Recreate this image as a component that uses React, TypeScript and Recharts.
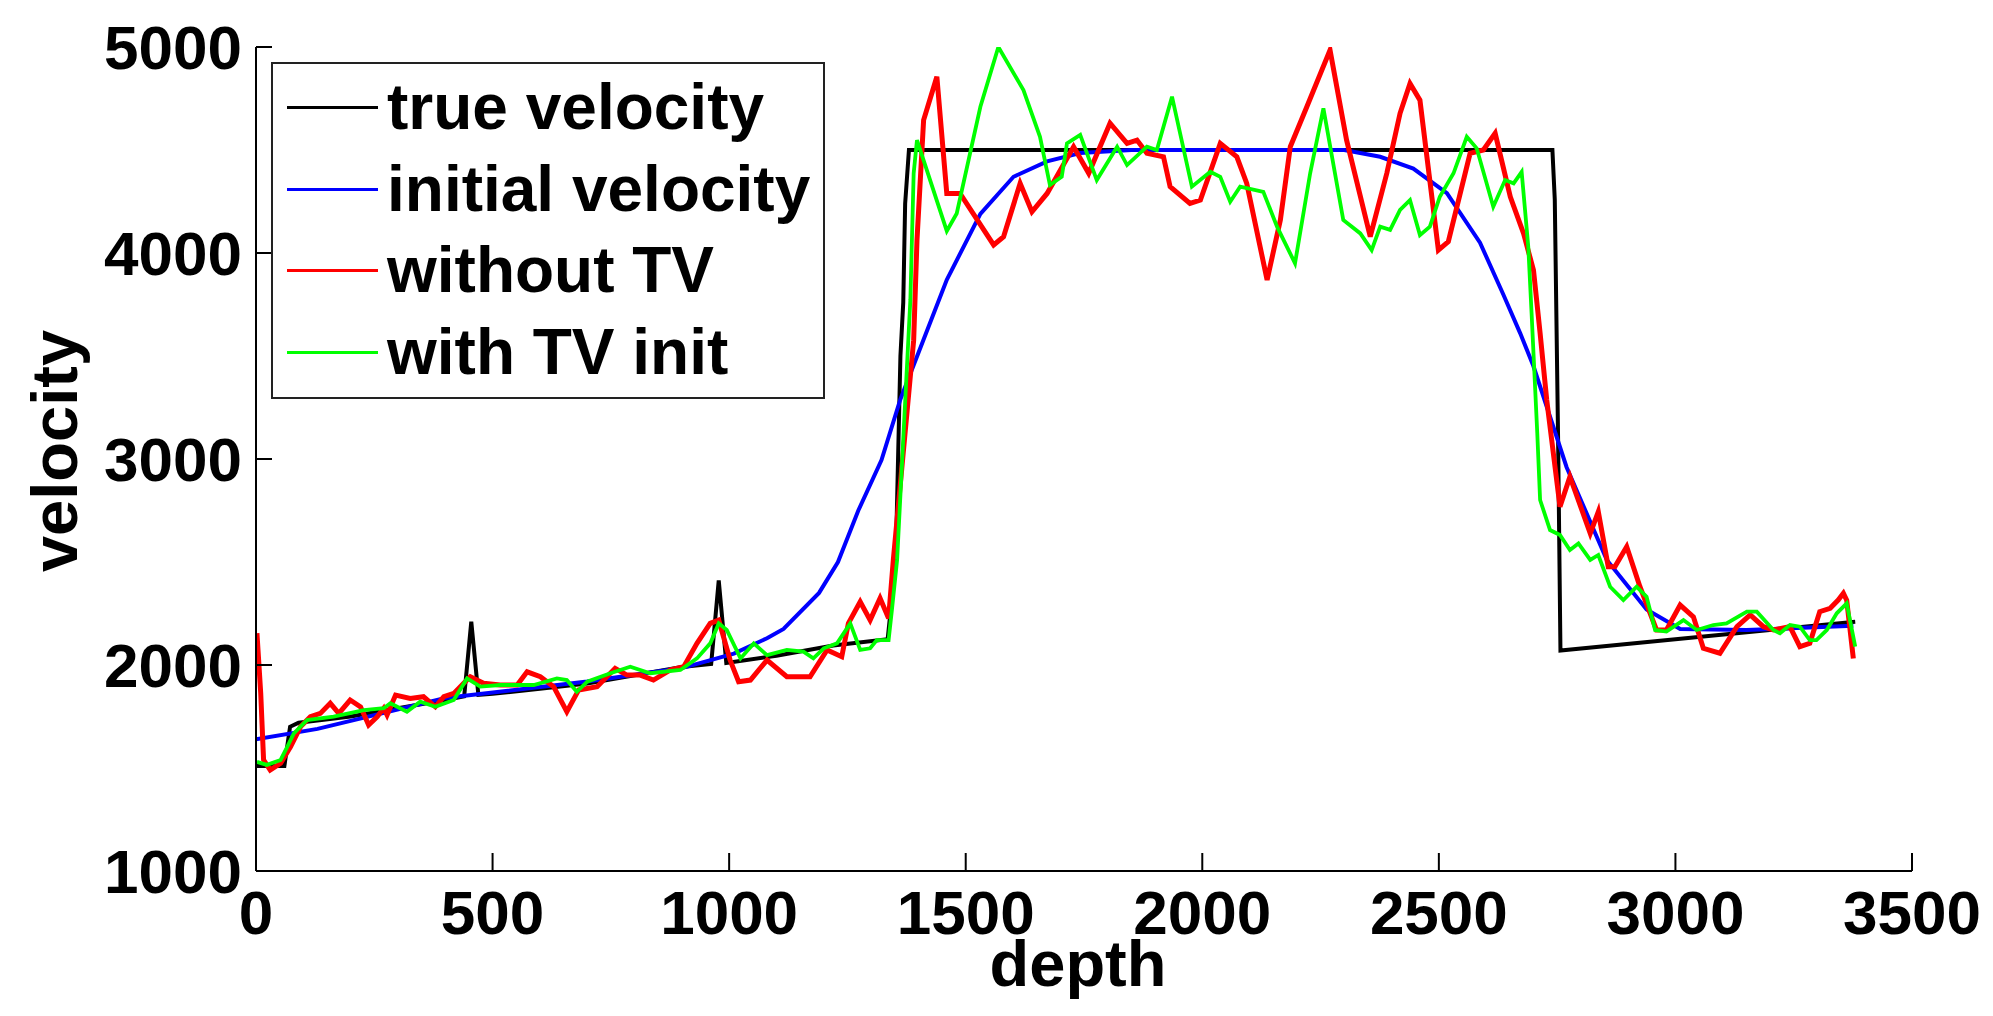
import { LineChart, Line, XAxis, YAxis, Legend } from "recharts";

// depth / velocity
const trueDepth = [0, 60, 72, 90, 200, 300, 400, 440, 455, 470, 500, 600, 700, 800, 900, 962, 978, 994, 1100, 1220, 1335, 1352, 1362, 1368, 1372, 1380, 2740, 2745, 2752, 2757, 3380];
const trueVel = [1510, 1510, 1700, 1720, 1750, 1790, 1830, 1848, 2210, 1855, 1860, 1885, 1910, 1950, 1990, 2005, 2410, 2010, 2045, 2095, 2125, 2500, 3500, 3760, 4240, 4500, 4500, 4260, 3100, 2070, 2210];

const initDepth = [0, 130, 400, 700, 900, 1010, 1080, 1115, 1190, 1230, 1273, 1322, 1362, 1411, 1460, 1531, 1601, 1672, 1742, 1850, 2300, 2376, 2446, 2517, 2587, 2636, 2672, 2700, 2770, 2855, 2939, 3010, 3150, 3376];
const initVel = [1640, 1690, 1840, 1920, 1985, 2055, 2130, 2175, 2350, 2500, 2750, 2995, 3290, 3580, 3870, 4190, 4370, 4445, 4485, 4500, 4500, 4467, 4410, 4290, 4050, 3800, 3610, 3450, 2960, 2510, 2270, 2175, 2170, 2190];

const noTvDepth = [2, 10, 16, 30, 52, 73, 94, 115, 136, 157, 175, 199, 221, 238, 256, 270, 277, 295, 326, 354, 379, 397, 418, 439, 453, 481, 516, 552, 573, 601, 629, 657, 682, 721, 759, 784, 812, 840, 876, 904, 932, 960, 978, 1002, 1020, 1045, 1080, 1122, 1171, 1207, 1238, 1252, 1277, 1298, 1319, 1337, 1347, 1390, 1397, 1411, 1439, 1460, 1488, 1559, 1580, 1615, 1640, 1672, 1728, 1760, 1805, 1841, 1862, 1883, 1918, 1932, 1974, 1996, 2038, 2073, 2094, 2137, 2165, 2186, 2221, 2270, 2305, 2355, 2390, 2418, 2439, 2460, 2499, 2520, 2566, 2594, 2619, 2651, 2679, 2700, 2714, 2728, 2756, 2777, 2820, 2837, 2858, 2872, 2897, 2925, 2960, 2981, 3010, 3038, 3059, 3094, 3130, 3158, 3186, 3207, 3242, 3263, 3284, 3305, 3327, 3344, 3355, 3362, 3376];
const noTvVel = [2154, 1862, 1540, 1490, 1523, 1603, 1700, 1749, 1765, 1814, 1765, 1830, 1797, 1709, 1749, 1790, 1757, 1854, 1838, 1846, 1797, 1846, 1862, 1911, 1943, 1911, 1903, 1903, 1967, 1943, 1895, 1773, 1879, 1895, 1984, 1951, 1951, 1927, 1976, 1992, 2105, 2202, 2218, 2024, 1919, 1927, 2024, 1943, 1943, 2073, 2040, 2202, 2307, 2218, 2324, 2227, 2510, 3577, 4063, 4645, 4856, 4289, 4289, 4039, 4079, 4338, 4200, 4289, 4516, 4387, 4630, 4532, 4548, 4484, 4467, 4322, 4241, 4257, 4532, 4467, 4338, 3869, 4160, 4516, 4710, 4985, 4548, 4079, 4387, 4678, 4823, 4742, 4014, 4055, 4484, 4500, 4581, 4273, 4095, 3917, 3610, 3286, 2768, 2914, 2639, 2744, 2477, 2477, 2574, 2380, 2170, 2170, 2291, 2234, 2081, 2057, 2186, 2243, 2186, 2170, 2186, 2089, 2105, 2259, 2275, 2315, 2348, 2315, 2032];

const tvDepth = [2, 23, 52, 66, 80, 108, 164, 228, 270, 284, 319, 347, 379, 418, 446, 474, 516, 587, 636, 657, 678, 700, 749, 791, 833, 897, 932, 960, 978, 995, 1024, 1052, 1080, 1122, 1157, 1178, 1200, 1228, 1256, 1277, 1298, 1312, 1337, 1344, 1355, 1383, 1390, 1397, 1460, 1481, 1531, 1569, 1622, 1657, 1678, 1703, 1714, 1742, 1777, 1820, 1841, 1883, 1904, 1936, 1978, 2017, 2038, 2059, 2080, 2129, 2158, 2196, 2228, 2256, 2298, 2334, 2358, 2376, 2397, 2418, 2439, 2460, 2481, 2502, 2531, 2559, 2580, 2615, 2640, 2658, 2675, 2689, 2696, 2708, 2714, 2735, 2756, 2777, 2795, 2820, 2837, 2862, 2890, 2918, 2939, 2957, 2981, 3017, 3045, 3080, 3108, 3151, 3172, 3207, 3221, 3242, 3263, 3284, 3298, 3320, 3341, 3362, 3380];
const tvVel = [1530, 1515, 1539, 1603, 1668, 1733, 1749, 1781, 1790, 1814, 1773, 1822, 1797, 1830, 1935, 1895, 1903, 1903, 1935, 1927, 1870, 1919, 1960, 1992, 1960, 1976, 2032, 2105, 2202, 2170, 2032, 2105, 2048, 2073, 2065, 2032, 2081, 2105, 2202, 2073, 2081, 2121, 2121, 2267, 2510, 3772, 4387, 4548, 4107, 4192, 4710, 5000, 4791, 4564, 4330, 4370, 4532, 4573, 4354, 4516, 4427, 4516, 4500, 4759, 4322, 4394, 4370, 4249, 4322, 4297, 4128, 3950, 4387, 4702, 4160, 4095, 4014, 4128, 4112, 4209, 4257, 4087, 4128, 4273, 4387, 4564, 4508, 4225, 4354, 4338, 4394, 4030, 3707, 3125, 2801, 2655, 2631, 2558, 2590, 2510, 2534, 2380, 2315, 2380, 2331, 2170, 2162, 2218, 2170, 2194, 2202, 2259, 2259, 2170, 2154, 2194, 2186, 2121, 2121, 2170, 2251, 2299, 2089];

const depthTicks = [0, 500, 1000, 1500, 2000, 2500, 3000, 3500];
const velocityTicks = [1000, 2000, 3000, 4000, 5000];

const zip = (d: number[], v: number[]) => d.map((x, i) => ({ depth: x, velocity: v[i] }));

const series = [
  { name: "true velocity", color: "#000000", width: 4, data: zip(trueDepth, trueVel) },
  { name: "initial velocity", color: "#0000ff", width: 4, data: zip(initDepth, initVel) },
  { name: "without TV", color: "#ff0000", width: 5, data: zip(noTvDepth, noTvVel) },
  { name: "with TV init", color: "#00ff00", width: 3.8, data: zip(tvDepth, tvVel) },
];

const FONT = '"Liberation Sans", Arial, Helvetica, sans-serif';
const FS = 62;
const LABEL_FS = 65;
const X_GAP = 18;
const Y_GAP = 14;

const BottomTick = (props: any) => {
  const { x, y, payload } = props;
  const axisY = y - X_GAP;
  return (
    <g>
      <line x1={x} x2={x} y1={axisY} y2={axisY - 18} stroke="#000" strokeWidth={2} />
      <text x={x} y={y} dy="0.72em" textAnchor="middle" fontFamily={FONT} fontWeight={700} fontSize={FS} fill="#000">
        {payload.value}
      </text>
    </g>
  );
};

const LeftTick = (props: any) => {
  const { x, y, payload } = props;
  const axisX = x + Y_GAP;
  return (
    <g>
      <line x1={axisX} x2={axisX + 16} y1={y} y2={y} stroke="#000" strokeWidth={2} />
      <text x={x} y={y} dy="0.36em" textAnchor="end" fontFamily={FONT} fontWeight={700} fontSize={FS} fill="#000">
        {payload.value}
      </text>
    </g>
  );
};

const TopTick = (props: any) => {
  const { x, y } = props;
  return <line x1={x} x2={x} y1={y} y2={y + 18} stroke="#000" strokeWidth={2} />;
};

const RightTick = (props: any) => {
  const { x, y } = props;
  return <line x1={x} x2={x - 16} y1={y} y2={y} stroke="#000" strokeWidth={2} />;
};

const LegendBox = () => (
  <div
    style={{
      position: "relative",
      width: 550,
      height: 333,
      border: "2px solid #222",
      background: "#fff",
      fontFamily: FONT,
      fontWeight: 700,
      fontSize: 64,
      color: "#000",
    }}
  >
    {series.map((s, i) => (
      <div key={s.name} style={{ position: "absolute", left: 0, top: 3 + i * 81.7, height: 81.7, width: "100%" }}>
        <div style={{ position: "absolute", left: 14, top: 39, width: 91, height: 3, background: s.color }} />
        <div style={{ position: "absolute", left: 114, top: 0, height: 81.7, lineHeight: "81.7px", whiteSpace: "nowrap" }}>
          {s.name}
        </div>
      </div>
    ))}
  </div>
);

export default function App() {
  return (
    <div style={{ position: "absolute", left: 0, top: 0, width: 1993, height: 1016, background: "#fff" }}>
      <LineChart width={1993} height={1016} margin={{ top: 47, right: 81, bottom: 0, left: 0 }}>
        <XAxis
          dataKey="depth"
          type="number"
          domain={[0, 3500]}
          ticks={depthTicks}
          interval={0}
          allowDataOverflow
          height={145}
          tickSize={0}
          tickMargin={X_GAP}
          tick={<BottomTick />}
          axisLine={{ stroke: "#000", strokeWidth: 2 }}
          tickLine={false}
          label={{
            content: (p: any) => {
              const vb = p.viewBox;
              return (
                <text x={vb.x + vb.width / 2 - 6} y={vb.y + 115} textAnchor="middle" fontFamily={FONT} fontWeight={700} fontSize={LABEL_FS} fill="#000">
                  depth
                </text>
              );
            },
          }}
        />
        <XAxis
          xAxisId="top"
          orientation="top"
          dataKey="depth"
          type="number"
          domain={[0, 3500]}
          ticks={depthTicks}
          interval={0}
          allowDataOverflow
          height={0}
          tickSize={0}
          tickMargin={0}
          tick={<TopTick />}
          axisLine={{ stroke: "#000", strokeWidth: 2 }}
          tickLine={false}
        />
        <YAxis
          type="number"
          domain={[1000, 5000]}
          ticks={velocityTicks}
          interval={0}
          allowDataOverflow
          width={256}
          tickSize={0}
          tickMargin={Y_GAP}
          tick={<LeftTick />}
          axisLine={{ stroke: "#000", strokeWidth: 2 }}
          tickLine={false}
          label={{
            content: (p: any) => {
              const vb = p.viewBox;
              const cx = vb.x + 54;
              const cy = vb.y + vb.height / 2 - 8;
              return (
                <text x={cx} y={cy} dy="0.36em" transform={`rotate(-90 ${cx} ${cy})`} textAnchor="middle" fontFamily={FONT} fontWeight={700} fontSize={LABEL_FS} fill="#000">
                  velocity
                </text>
              );
            },
          }}
        />
        <YAxis
          yAxisId="right"
          orientation="right"
          type="number"
          domain={[1000, 5000]}
          ticks={velocityTicks}
          interval={0}
          allowDataOverflow
          width={0}
          tickSize={0}
          tickMargin={0}
          tick={<RightTick />}
          axisLine={{ stroke: "#000", strokeWidth: 2 }}
          tickLine={false}
        />
        <Legend
          layout="vertical"
          align="center"
          verticalAlign="middle"
          wrapperStyle={{ left: 271, top: 62, width: 554, height: 337 }}
          content={() => <LegendBox />}
        />
        {series.map((s) => (
          <Line
            key={s.name}
            name={s.name}
            data={s.data}
            dataKey="velocity"
            type="linear"
            stroke={s.color}
            strokeWidth={s.width}
            dot={false}
            activeDot={false}
            isAnimationActive={false}
          />
        ))}
      </LineChart>
    </div>
  );
}
